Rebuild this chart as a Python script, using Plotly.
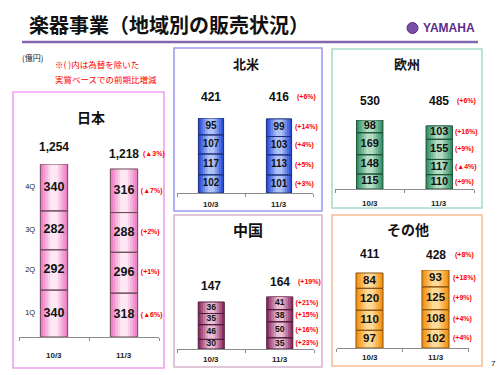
import plotly.graph_objects as go

W, H = 500, 375

# ---------------- data ----------------
periods = ["10/3", "11/3"]
quarters = ["1Q", "2Q", "3Q", "4Q"]

japan_10 = [340, 292, 282, 340]
japan_11 = [318, 296, 288, 316]
japan_pct = ["(▲6%)", "(+1%)", "(+2%)", "(▲7%)"]
japan_total_pct = "(▲3%)"

na_10 = [102, 117, 107, 95]
na_11 = [101, 113, 103, 99]
na_pct = ["(+3%)", "(+5%)", "(+4%)", "(+14%)"]
na_total_pct = "(+6%)"

eu_10 = [115, 148, 169, 98]
eu_11 = [110, 117, 155, 103]
eu_pct = ["(+9%)", "(▲4%)", "(+9%)", "(+16%)"]
eu_total_pct = "(+6%)"

cn_10 = [30, 46, 35, 36]
cn_11 = [35, 50, 38, 41]
cn_pct = ["(+23%)", "(+16%)", "(+15%)", "(+21%)"]
cn_total_pct = "(+19%)"

ot_10 = [97, 110, 120, 84]
ot_11 = [102, 108, 125, 93]
ot_pct = ["(+4%)", "(+4%)", "(+9%)", "(+18%)"]
ot_total_pct = "(+8%)"

titles = ["日本", "北米", "欧州", "中国", "その他"]

# ---------------- geometry / style ----------------
panels = [
    dict(title=titles[0], v10=japan_10, v11=japan_11, pct=japan_pct, tpct=japan_total_pct,
         x0=19, x1=159, axis=337, scale=173 / 1254, bw=0.39, pctx=1.24,
         shifts=[17, 15], edge="#EE7EC4", center="#FDE8F4", line="#6A4A5A",
         vfont=12.5, vfamily="Liberation Sans Narrow, Arial Narrow, Arial",
         lshift=-18, box=(13, 92, 164, 368), boxc="#F0A0F0",
         title_xy=(91, 117), title_size=14, qlabels=True),
    dict(title=titles[1], v10=na_10, v11=na_11, pct=na_pct, tpct=na_total_pct,
         x0=177, x1=313, axis=193, scale=75 / 421, bw=0.37, pctx=1.235,
         shifts=[21, 22], edge="#2A50D8", center="#AEC2F8", line="#1C2E7A",
         vfont=10, vfamily="Arial", lshift=-11, box=(174, 48, 322, 211), boxc="#9C9CF0",
         title_xy=(246, 63), title_size=13, qlabels=False),
    dict(title=titles[2], v10=eu_10, v11=eu_11, pct=eu_pct, tpct=eu_total_pct,
         x0=335, x1=474, axis=189, scale=69 / 530, bw=0.38, pctx=1.225,
         shifts=[19, 25], edge="#35936A", center="#B4DEC4", line="#1E5034",
         vfont=11, vfamily="Liberation Sans Narrow, Arial Narrow, Arial",
         lshift=-14, box=(332, 49, 482, 208), boxc="#A8DCCC",
         title_xy=(407, 64), title_size=13, qlabels=False),
    dict(title=titles[3], v10=cn_10, v11=cn_11, pct=cn_pct, tpct=cn_total_pct,
         x0=177, x1=314, axis=349, scale=47 / 147, bw=0.38, pctx=1.23,
         shifts=[16, 15], edge="#8E2F64", center="#EABCD4", line="#4E1A38",
         vfont=8.5, vfamily="Arial", lshift=-10, box=(174, 215, 322, 367), boxc="#D8B4CC",
         title_xy=(248, 229), title_size=15, qlabels=False),
    dict(title=titles[4], v10=ot_10, v11=ot_11, pct=ot_pct, tpct=ot_total_pct,
         x0=336.5, x1=468.5, axis=348, scale=75 / 411, bw=0.41, pctx=1.265,
         shifts=[19, 15], edge="#F39212", center="#FFDA96", line="#8A5410",
         vfont=11.5, vfamily="Arial", lshift=-10, box=(332, 215, 482, 366), boxc="#F8BC98",
         title_xy=(408, 229), title_size=14, qlabels=False),
]

CJK = "Noto Sans CJK JP"


def hex2rgb(h):
    h = h.lstrip("#")
    return tuple(int(h[i:i + 2], 16) for i in (0, 2, 4))


def mix(a, b, t):
    ra, rb = hex2rgb(a), hex2rgb(b)
    return "rgb(%d,%d,%d)" % tuple(round(ra[i] + (rb[i] - ra[i]) * t) for i in range(3))


def cum(vals):
    out, s = [], 0
    for v in vals:
        out.append(s)
        s += v
    return out


fig = go.Figure()
annotations = []
shapes = []
layout_axes = {}

LAYERS = 5
for i, p in enumerate(panels, start=1):
    xa = "x" if i == 1 else "x%d" % i
    ya = "y" if i == 1 else "y%d" % i
    xkey = "xaxis" if i == 1 else "xaxis%d" % i
    ykey = "yaxis" if i == 1 else "yaxis%d" % i

    t10, t11 = sum(p["v10"]), sum(p["v11"])
    ymax = max(t10, t11)
    top_px = p["axis"] - ymax * p["scale"]

    xs = [0] * 4 + [1] * 4
    ys = p["v10"] + p["v11"]
    bases = cum(p["v10"]) + cum(p["v11"])
    mids = [b + v / 2 for b, v in zip(bases, ys)]

    # gradient bars (overlay layers from edge to centre)
    for k in range(LAYERS):
        frac = 1 - k / LAYERS * 0.9
        col = mix(p["edge"], p["center"], k / (LAYERS - 1))
        fig.add_trace(go.Bar(x=xs, y=ys, base=bases, width=p["bw"] * frac,
                             marker=dict(color=col, line=dict(width=0)),
                             xaxis=xa, yaxis=ya, showlegend=False, hoverinfo="skip",
                             cliponaxis=False))
    # outline layer
    fig.add_trace(go.Bar(x=xs, y=ys, base=bases, width=p["bw"],
                         marker=dict(color="rgba(0,0,0,0)", line=dict(width=1, color=p["line"])),
                         xaxis=xa, yaxis=ya, showlegend=False, hoverinfo="skip",
                         cliponaxis=False))
    # values inside segments
    fig.add_trace(go.Scatter(x=xs, y=mids, mode="text", text=[str(v) for v in ys],
                             textfont=dict(size=p["vfont"], color="#111111",
                                           family=p["vfamily"], weight="bold"),
                             xaxis=xa, yaxis=ya, showlegend=False, hoverinfo="skip",
                             cliponaxis=False))
    # quarterly growth labels next to 11/3 bar
    fig.add_trace(go.Scatter(x=[p["pctx"]] * 4, y=mids[4:], mode="text", text=p["pct"],
                             textposition="middle right",
                             textfont=dict(size=7, color="#FF0000", family="Arial", weight="bold"),
                             xaxis=xa, yaxis=ya, showlegend=False, hoverinfo="skip",
                             cliponaxis=False))
    if p["qlabels"]:
        fig.add_trace(go.Scatter(x=[-0.34] * 4, y=mids[:4], mode="text", text=quarters,
                                 textfont=dict(size=7.5, color="#222222", family="Arial"),
                                 xaxis=xa, yaxis=ya, showlegend=False, hoverinfo="skip",
                                 cliponaxis=False))

    # totals and period labels
    for j, tot in enumerate([t10, t11]):
        annotations.append(dict(x=j, y=tot, xref=xa, yref=ya, text="{:,}".format(tot),
                                showarrow=False, xanchor="center", yanchor="middle",
                                yshift=p["shifts"][j],
                                font=dict(size=12, color="#111111", family="Arial", weight="bold")))
        annotations.append(dict(x=j, y=0, xref=xa, yref=ya, text=periods[j],
                                showarrow=False, xanchor="center", yanchor="middle",
                                yshift=p["lshift"],
                                font=dict(size=8, color="#222222", family="Arial", weight="bold")))
    annotations.append(dict(x=p["pctx"], y=t11, xref=xa, yref=ya, text=p["tpct"],
                            showarrow=False, xanchor="left", yanchor="middle",
                            yshift=p["shifts"][1],
                            font=dict(size=7, color="#FF0000", family="Arial", weight="bold")))

    layout_axes[xkey] = dict(domain=[p["x0"] / W, p["x1"] / W], range=[-0.5, 1.5],
                             anchor=ya, tickvals=[0, 1], ticktext=periods, ticks="",
                             showticklabels=False,
                             showgrid=False, zeroline=False, showline=True,
                             linecolor="#8C8C8C", linewidth=1.3,
                             minor=dict(tickvals=[-0.5, 0.5, 1.5], ticks="outside", ticklen=3,
                                        tickcolor="#8C8C8C", tickwidth=1),
                             fixedrange=True)
    layout_axes[ykey] = dict(domain=[1 - p["axis"] / H, 1 - top_px / H], range=[0, ymax],
                             anchor=xa, visible=False, showgrid=False, zeroline=False,
                             fixedrange=True)

    # panel box
    bx0, by0, bx1, by1 = p["box"]
    shapes.append(dict(type="rect", xref="paper", yref="paper",
                       x0=bx0 / W, x1=bx1 / W, y0=1 - by1 / H, y1=1 - by0 / H,
                       line=dict(color=p["boxc"], width=1.6), fillcolor="rgba(0,0,0,0)",
                       layer="below"))
    tx, ty = p["title_xy"]
    annotations.append(dict(x=tx / W, y=1 - ty / H, xref="paper", yref="paper",
                            xanchor="center", yanchor="middle",
                            text=p["title"], showarrow=False,
                            font=dict(size=p["title_size"], color="#111111", family=CJK,
                                      weight="bold")))

# header elements
annotations += [
    dict(x=27 / W, y=1 - 24 / H, xref="paper", yref="paper", xanchor="left", yanchor="middle",
         text="楽器事業（地域別の販売状況）", showarrow=False,
         font=dict(size=20, color="#111111", family=CJK, weight="bold")),
    dict(x=421 / W, y=1 - 28 / H, xref="paper", yref="paper", xanchor="left", yanchor="middle",
         text="YAMAHA", showarrow=False,
         font=dict(size=12, color="#5B2C8E", family="Arial", weight="bold")),
    dict(x=20 / W, y=1 - 57 / H, xref="paper", yref="paper", xanchor="left", yanchor="middle",
         text="(億円)", showarrow=False,
         font=dict(size=8, color="#111111", family=CJK)),
    dict(x=53 / W, y=1 - 64 / H, xref="paper", yref="paper", xanchor="left", yanchor="middle",
         text="※( )内は為替を除いた", showarrow=False,
         font=dict(size=8.5, color="#FF0000", family=CJK)),
    dict(x=53 / W, y=1 - 79 / H, xref="paper", yref="paper", xanchor="left", yanchor="middle",
         text="実質ベースでの前期比増減", showarrow=False,
         font=dict(size=8.5, color="#FF0000", family=CJK)),
    dict(x=493 / W, y=1 - 363 / H, xref="paper", yref="paper", xanchor="center",
         yanchor="middle", text="7", showarrow=False,
         font=dict(size=8, color="#111111", family="Arial")),
]
shapes += [
    dict(type="line", xref="paper", yref="paper", x0=22 / W, x1=478 / W,
         y0=1 - 42 / H, y1=1 - 42 / H, line=dict(color="#8466B0", width=2.5)),
    dict(type="circle", xref="paper", yref="paper", x0=407 / W, x1=418 / W,
         y0=1 - 33.5 / H, y1=1 - 22.5 / H, line=dict(color="#5B2C8E", width=1),
         fillcolor="#7A4DA8"),
]

fig.update_layout(width=W, height=H, margin=dict(l=0, r=0, t=0, b=0),
                  paper_bgcolor="white", plot_bgcolor="rgba(0,0,0,0)",
                  barmode="overlay", showlegend=False,
                  annotations=annotations, shapes=shapes, **layout_axes)

fig.write_html("out.html", config={"displayModeBar": False},
               post_script="document.body.style.margin='0';document.body.style.padding='0';")
